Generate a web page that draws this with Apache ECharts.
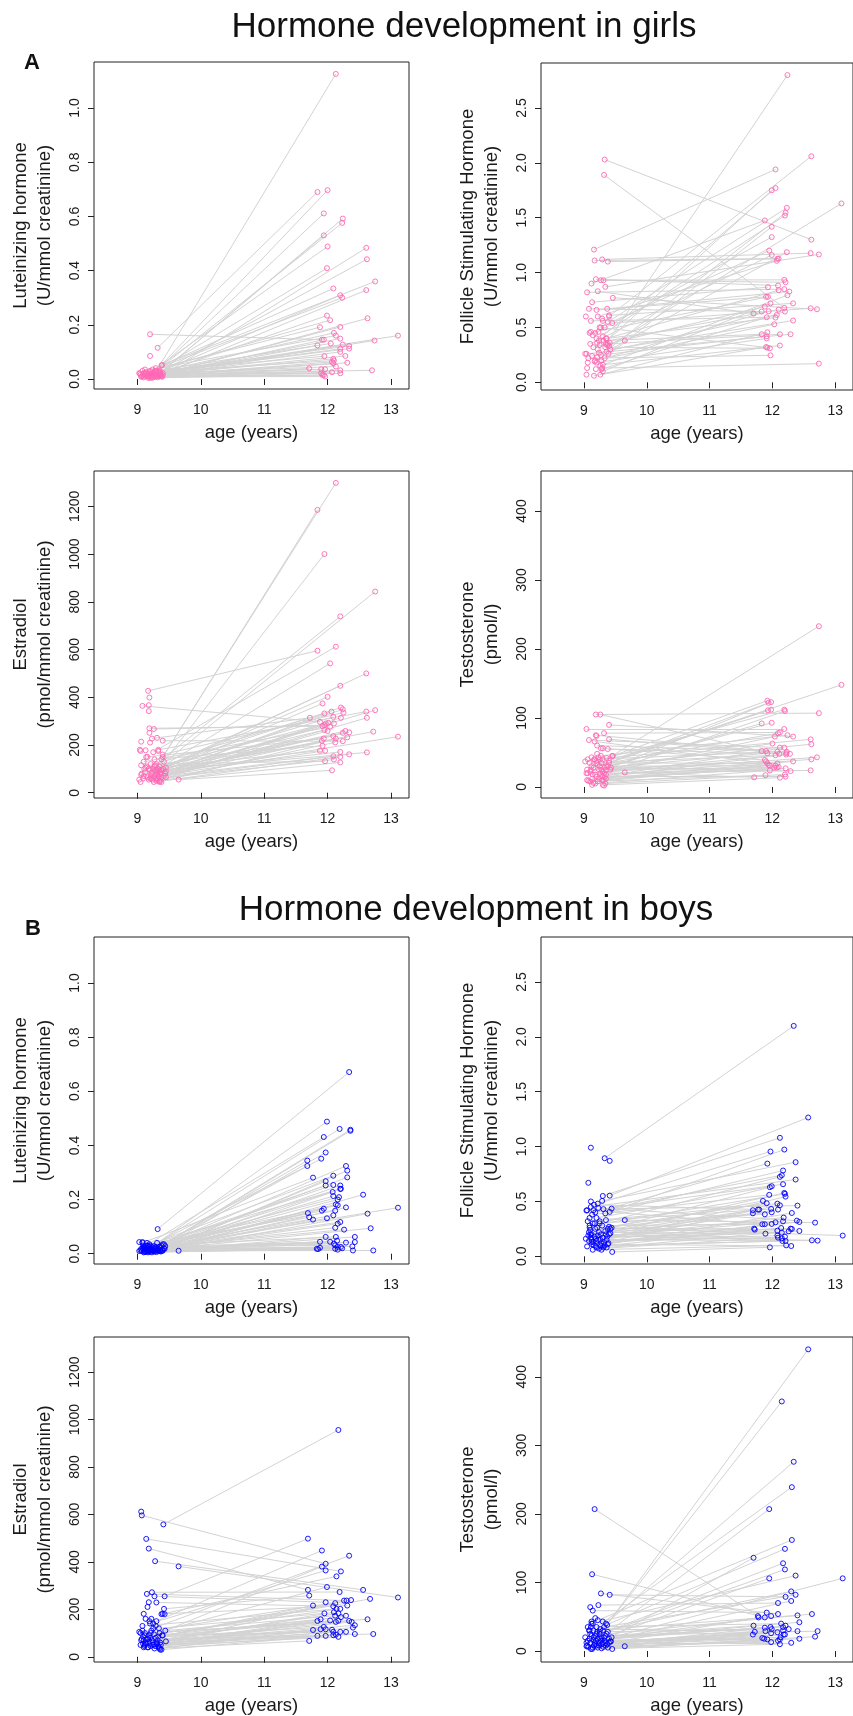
<!DOCTYPE html>
<html>
<head>
<meta charset="utf-8">
<script src="https://cdn.jsdelivr.net/npm/echarts@6/dist/echarts.min.js"></script>
<style>
  html, body { margin: 0; padding: 0; background: #fff; }
  #chart { width: 853px; height: 1716px; }
</style>
</head>
<body>
<div id="chart"></div>
<script>
// x axis (age), shared by all panels
const ageTicks = [9, 10, 11, 12, 13];

// y ticks per hormone
const lhTicks = [0, 0.2, 0.4, 0.6, 0.8, 1.0];
const fshTicks = [0, 0.5, 1.0, 1.5, 2.0, 2.5];
const e2Ticks = [0, 200, 400, 600, 800, 1000, 1200];
const tTicks = [0, 100, 200, 300, 400];

// pairs: [age1, value1, age2, value2]; singles: [age, value]
const girlsLH = [
  [9.30,0.030,12.13,1.126],[9.32,0.115,11.84,0.690],[9.25,0.020,12.00,0.697],[9.28,0.025,11.94,0.611],
  [9.35,0.020,12.24,0.592],[9.22,0.015,12.23,0.576],[9.30,0.010,11.94,0.530],[9.18,0.020,12.00,0.489],
  [9.40,0.015,12.61,0.484],[9.36,0.025,12.62,0.442],[9.15,0.010,11.99,0.409],[9.38,0.050,12.75,0.360],
  [9.20,0.030,12.09,0.334],[9.33,0.012,12.61,0.328],[9.27,0.018,12.20,0.309],[9.12,0.022,12.23,0.300],
  [9.19,0.008,11.99,0.234],[9.37,0.015,12.63,0.224],[9.10,0.020,12.04,0.217],[9.24,0.035,11.88,0.191],
  [9.29,0.012,12.20,0.192],[9.17,0.018,12.10,0.170],[9.08,0.030,12.13,0.160],[9.34,0.020,12.20,0.149],
  [9.20,0.165,11.91,0.145],[9.26,0.008,11.94,0.145],[9.40,0.022,13.11,0.160],[9.31,0.015,12.74,0.142],
  [9.14,0.025,12.05,0.131],[9.21,0.012,11.84,0.124],[9.38,0.010,12.24,0.127],[9.33,0.028,12.34,0.122],
  [9.05,0.015,12.34,0.112],[9.23,0.020,12.20,0.111],[9.16,0.010,12.20,0.100],[9.28,0.030,11.95,0.084],
  [9.11,0.012,12.28,0.085],[9.36,0.018,12.09,0.074],[9.19,0.025,12.10,0.068],[9.06,0.008,12.07,0.063],
  [9.27,0.014,12.09,0.058],[9.35,0.010,12.31,0.060],[9.13,0.020,12.13,0.046],[9.22,0.006,11.71,0.039],
  [9.30,0.022,11.90,0.036],[9.09,0.012,11.96,0.036],[9.39,0.008,12.20,0.032],[9.25,0.016,12.70,0.032],
  [9.18,0.010,12.07,0.025],[9.32,0.006,11.90,0.021],[9.04,0.020,12.20,0.021],[9.15,0.012,11.94,0.014],
  [9.28,0.008,11.96,0.009],[9.21,0.004,11.92,0.015]
];
const girlsLHSingle = [[9.03,0.022],[9.07,0.010],[9.20,0.085],[9.39,0.052],[9.24,0.005],[9.12,0.035],
  [9.29,0.040],[9.35,0.030],[9.17,0.004],[9.10,0.006]];

const girlsFSH = [
  [9.35,0.35,12.24,2.80],[9.40,0.60,12.62,2.06],[9.16,1.21,12.05,1.94],[9.30,0.42,12.05,1.77],
  [9.22,0.30,11.99,1.75],[9.38,0.55,12.23,1.59],[9.27,0.25,12.21,1.545],[9.20,0.40,12.20,1.52],
  [9.40,0.33,13.10,1.63],[9.12,0.90,11.88,1.475],[9.28,0.20,11.99,1.417],[9.18,0.45,11.99,1.323],
  [9.33,2.03,12.62,1.30],[9.25,0.50,11.95,1.20],[9.10,0.35,11.99,1.16],[9.36,0.28,12.23,1.186],
  [9.29,1.12,12.61,1.177],[9.34,0.87,12.74,1.165],[9.38,1.10,12.08,1.125],[9.17,1.11,12.10,1.128],
  [9.22,0.60,12.07,1.107],[9.31,0.93,12.19,0.934],[9.27,0.93,12.21,0.912],[9.19,0.94,12.09,0.882],
  [9.13,0.73,11.93,0.867],[9.24,0.38,12.10,0.84],[9.05,0.82,12.19,0.849],[9.37,0.67,12.27,0.827],
  [9.26,0.15,12.24,0.794],[9.20,0.66,11.90,0.779],[9.09,0.45,11.93,0.779],[9.30,0.10,11.97,0.72],
  [9.40,0.61,12.33,0.72],[9.15,0.32,11.88,0.69],[9.21,0.36,12.10,0.663],[9.32,1.89,12.19,0.678],
  [9.28,0.12,12.20,0.645],[9.45,0.54,12.61,0.675],[9.46,0.77,12.71,0.666],[9.22,0.83,11.70,0.627],
  [9.08,0.67,11.83,0.645],[9.33,0.22,11.94,0.648],[9.11,0.56,11.91,0.593],[9.24,0.27,12.07,0.614],
  [9.36,0.40,12.05,0.59],[9.42,0.30,12.33,0.563],[9.18,0.20,12.03,0.529],[9.26,0.07,11.92,0.456],
  [9.31,0.38,11.83,0.438],[9.13,0.24,11.91,0.42],[9.20,0.18,11.91,0.40],[9.38,0.35,12.12,0.438],
  [9.04,0.26,12.29,0.438],[9.30,0.16,12.12,0.335],[9.16,0.06,11.90,0.322],[9.27,0.50,11.92,0.316],
  [9.34,0.32,11.96,0.31],[9.07,0.22,11.97,0.246],[9.29,0.13,12.74,0.17]
];
const girlsFSHSingle = [[9.04,0.07],[9.05,0.13],[9.02,0.26],[9.06,0.18],[9.03,0.60],[9.11,0.46],
  [9.14,0.43],[9.17,0.19],[9.19,0.12],[9.23,0.46],[9.25,0.34],[9.29,0.58],[9.33,0.50],[9.35,0.40],
  [9.37,0.34],[9.39,0.26],[9.41,0.36],[9.65,0.38],[9.30,0.56],[9.21,0.23]];

const girlsE2 = [
  [9.40,150,12.13,1298],[9.38,140,11.84,1185],[9.42,130,11.95,1000],[9.35,110,12.75,843],
  [9.30,120,12.20,739],[9.17,427,11.84,595],[9.25,170,12.13,612],[9.33,100,12.04,542],
  [9.45,105,12.61,500],[9.28,90,12.20,448],[9.22,80,12.00,402],[9.36,85,11.92,374],
  [9.20,95,12.21,357],[9.31,75,12.24,350],[9.40,160,12.25,336],[9.27,70,12.06,340],
  [9.33,180,12.61,340],[9.45,90,12.75,346],[9.15,110,11.95,332],[9.38,65,12.62,314],
  [9.23,227,11.72,314],[9.12,85,12.09,318],[9.29,60,12.21,314],[9.08,364,11.88,297],
  [9.18,100,11.97,290],[9.26,267,11.95,283],[9.34,50,12.01,293],[9.21,70,12.10,290],
  [9.19,270,11.92,279],[9.10,130,12.04,276],[9.30,95,11.95,263],[9.24,55,12.00,259],
  [9.37,78,12.28,259],[9.41,100,12.34,253],[9.32,88,12.72,256],[9.16,65,12.24,251],
  [9.28,115,12.09,237],[9.06,75,12.31,232],[9.35,45,12.13,227],[9.44,80,13.11,235],
  [9.14,150,11.94,227],[9.20,60,11.91,217],[9.40,218,12.24,216],[9.30,50,12.12,211],
  [9.27,140,11.92,197],[9.11,100,11.88,176],[9.33,70,11.96,176],[9.23,85,12.20,171],
  [9.38,95,12.62,169],[9.18,55,12.34,161],[9.26,45,12.20,150],[9.09,60,12.09,153],
  [9.32,60,12.10,139],[9.21,120,11.96,132],[9.36,50,12.20,127],[9.65,55,12.07,94]
];
const girlsE2Single = [[9.19,399],[9.18,367],[9.18,342],[9.19,251],[9.06,214],[9.04,180],[9.05,175],
  [9.13,178],[9.33,175],[9.03,55],[9.05,45],[9.07,80],[9.10,70],[9.13,105],[9.16,150],[9.20,210],
  [9.25,100],[9.29,80],[9.31,230],[9.35,95],[9.38,45],[9.42,70],[9.45,65],[9.22,60],[9.27,110],[9.06,115]];

const girlsT = [
  [9.45,45,12.74,233],[9.40,35,13.10,148],[9.30,40,11.92,125],[9.25,30,11.94,122],
  [9.35,25,11.98,123],[9.20,38,12.19,112],[9.32,20,12.20,110],[9.15,28,11.93,111],
  [9.28,35,11.98,112],[9.19,105,12.74,107],[9.38,30,11.99,93],[9.10,22,11.83,92],
  [9.04,84,12.19,84],[9.32,78,12.12,79],[9.22,32,12.09,78],[9.18,18,12.04,73],
  [9.27,45,12.24,75],[9.40,90,12.33,73],[9.36,42,12.61,69],[9.12,30,12.62,62],
  [9.24,25,12.00,63],[9.29,15,12.19,57],[9.08,68,12.12,57],[9.26,105,11.83,52],
  [9.19,75,11.90,52],[9.33,28,11.92,49],[9.16,40,12.08,51],[9.21,60,12.23,51],
  [9.40,69,12.22,49],[9.13,12,12.28,48],[9.30,22,12.22,47],[9.20,35,12.05,46],
  [9.38,55,12.11,48],[9.06,20,12.71,43],[9.35,18,12.62,40],[9.27,56,11.88,39],
  [9.11,25,11.90,37],[9.24,12,12.33,37],[9.17,66,11.92,34],[9.31,10,11.94,32],
  [9.09,35,12.08,34],[9.22,8,11.96,31],[9.36,30,12.05,31],[9.14,18,12.10,29],
  [9.28,25,12.03,28],[9.05,10,12.07,28],[9.33,14,12.21,27],[9.18,5,11.96,24],
  [9.43,28,12.29,23],[9.26,20,12.61,24],[9.10,8,11.89,17],[9.34,5,12.20,18],
  [9.20,15,12.21,15],[9.65,21,11.71,14],[9.30,3,12.12,13.5]
];
const girlsTSingle = [[9.02,37],[9.04,20],[9.05,25],[9.07,9],[9.12,43],[9.20,74],[9.17,40],[9.23,43],
  [9.30,56],[9.40,38],[9.46,45],[9.42,25],[9.32,2],[9.29,10],[9.15,6],[9.25,40],[9.35,12],[9.21,48],
  [9.06,40],[9.13,3]];

const boysLH = [
  [9.32,0.091,12.34,0.671],[9.20,0.020,11.99,0.488],[9.15,0.015,12.19,0.461],[9.38,0.030,12.36,0.458],
  [9.25,0.010,12.36,0.454],[9.10,0.025,11.94,0.431],[9.30,0.012,11.97,0.374],[9.18,0.008,11.90,0.351],
  [9.40,0.035,11.68,0.344],[9.12,0.018,11.68,0.324],[9.28,0.022,12.29,0.324],[9.35,0.010,12.31,0.307],
  [9.08,0.040,11.77,0.281],[9.22,0.015,12.31,0.282],[9.16,0.030,12.09,0.288],[9.42,0.020,11.97,0.268],
  [9.05,0.012,11.97,0.252],[9.26,0.028,12.09,0.254],[9.33,0.018,12.20,0.252],[9.13,0.010,12.20,0.239],
  [9.19,0.035,12.21,0.240],[9.37,0.008,12.08,0.228],[9.24,0.015,12.09,0.213],[9.11,0.022,12.18,0.209],
  [9.40,0.012,12.56,0.218],[9.29,0.025,12.16,0.200],[9.17,0.012,12.13,0.182],[9.09,0.030,12.16,0.179],
  [9.34,0.015,12.29,0.171],[9.44,0.028,13.11,0.170],[9.21,0.008,11.94,0.166],[9.14,0.020,11.91,0.159],
  [9.31,0.040,12.12,0.159],[9.06,0.018,11.69,0.150],[9.39,0.010,12.63,0.148],[9.23,0.025,12.09,0.142],
  [9.16,0.012,11.71,0.135],[9.27,0.016,11.77,0.126],[9.12,0.006,11.99,0.131],[9.36,0.022,12.20,0.117],
  [9.20,0.012,12.16,0.111],[9.10,0.015,12.12,0.096],[9.43,0.018,12.68,0.094],[9.18,0.020,12.26,0.089],
  [9.26,0.010,11.97,0.062],[9.14,0.030,12.13,0.062],[9.32,0.012,12.43,0.062],[9.08,0.020,12.43,0.043],
  [9.22,0.014,11.88,0.044],[9.35,0.026,12.04,0.044],[9.15,0.008,12.15,0.048],[9.28,0.018,12.29,0.041],
  [9.11,0.010,12.10,0.037],[9.19,0.025,12.12,0.031],[9.30,0.006,12.16,0.025],[9.24,0.012,12.21,0.025],
  [9.40,0.015,12.39,0.027],[9.13,0.020,11.88,0.022],[9.07,0.010,11.85,0.017],[9.17,0.005,11.83,0.018],
  [9.33,0.010,12.12,0.018],[9.21,0.018,12.23,0.020],[9.65,0.011,12.72,0.012],[9.03,0.010,12.40,0.012],
  [9.27,0.008,12.16,0.015]
];
const boysLHSingle = [[9.03,0.043],[9.08,0.043],[9.15,0.040],[9.20,0.030],[9.10,0.005],[9.18,0.012],
  [9.23,0.005],[9.36,0.012],[9.42,0.035],[9.12,0.028]];

const boysFSH = [
  [9.33,0.894,12.34,2.10],[9.41,0.553,12.57,1.265],[9.30,0.55,12.12,1.08],[9.22,0.48,11.97,0.955],
  [9.41,0.405,12.19,0.973],[9.29,0.505,12.37,0.858],[9.18,0.40,11.92,0.845],[9.34,0.392,12.17,0.782],
  [9.44,0.435,12.15,0.739],[9.25,0.30,12.12,0.724],[9.11,0.45,12.37,0.70],[9.20,0.35,11.99,0.639],
  [9.38,0.25,11.96,0.63],[9.15,0.42,12.17,0.657],[9.27,0.20,12.19,0.578],[9.09,0.28,12.20,0.569],
  [9.36,0.15,12.21,0.544],[9.13,0.38,11.95,0.56],[9.24,0.22,11.85,0.505],[9.40,0.27,11.91,0.484],
  [9.06,0.32,12.08,0.48],[9.19,0.16,12.12,0.465],[9.31,0.43,12.40,0.462],[9.12,0.20,11.69,0.42],
  [9.28,0.12,11.77,0.426],[9.16,0.47,11.79,0.426],[9.35,0.33,11.98,0.432],[9.21,0.26,11.99,0.401],
  [9.08,0.14,12.09,0.426],[9.42,0.21,11.69,0.392],[9.14,0.30,11.88,0.383],[9.26,0.10,12.31,0.395],
  [9.37,0.18,12.18,0.353],[9.10,0.24,12.17,0.319],[9.23,0.44,12.39,0.325],[9.32,0.13,12.43,0.313],
  [9.65,0.33,12.68,0.307],[9.17,0.18,12.05,0.31],[9.29,0.28,11.84,0.292],[9.05,0.42,11.88,0.292],
  [9.39,0.12,11.99,0.295],[9.13,0.11,12.14,0.258],[9.22,0.19,12.29,0.252],[9.34,0.23,12.31,0.249],
  [9.18,0.25,11.71,0.252],[9.27,0.09,11.72,0.243],[9.11,0.17,12.08,0.234],[9.36,0.08,12.26,0.228],
  [9.20,0.14,12.43,0.231],[9.08,0.22,11.89,0.207],[9.30,0.17,12.15,0.216],[9.15,0.13,12.08,0.189],
  [9.40,0.20,12.09,0.17],[9.24,0.07,12.20,0.179],[9.12,0.15,12.15,0.164],[9.44,0.26,13.12,0.189],
  [9.19,0.09,12.16,0.14],[9.33,0.10,12.21,0.14],[9.07,0.19,12.63,0.146],[9.26,0.15,12.72,0.143],
  [9.14,0.06,12.22,0.10],[9.38,0.11,12.30,0.094],[9.45,0.04,11.96,0.082]
];
const boysFSHSingle = [[9.11,0.99],[9.41,0.87],[9.07,0.67],[9.04,0.417],[9.11,0.50],[9.03,0.16],
  [9.05,0.09],[9.09,0.26],[9.10,0.20],[9.16,0.10],[9.20,0.08],[9.23,0.15],[9.28,0.06],[9.31,0.08],
  [9.35,0.20],[9.42,0.25],[9.17,0.30],[9.12,0.13],[9.25,0.32],[9.09,0.35]];

const boysE2 = [
  [9.41,558,12.17,956],[9.43,255,11.69,498],[9.30,150,11.91,448],[9.25,120,12.34,426],
  [9.07,596,11.97,392],[9.35,100,11.91,380],[9.20,140,11.97,364],[9.14,497,12.21,360],
  [9.38,180,12.14,339],[9.18,456,11.69,282],[9.28,403,12.56,282],[9.12,90,11.99,294],
  [9.42,202,11.71,258],[9.23,272,12.19,273],[9.65,381,13.11,250],[9.33,85,12.67,244],
  [9.10,70,11.77,216],[9.27,255,11.97,230],[9.15,265,12.26,237],[9.36,60,12.30,237],
  [9.22,110,12.37,239],[9.40,181,12.31,216],[9.17,75,12.12,226],[9.30,229,12.09,213],
  [9.08,130,12.14,202],[9.26,95,12.20,202],[9.13,55,12.10,188],[9.34,120,11.95,183],
  [9.19,65,12.17,183],[9.44,110,12.12,173],[9.11,45,12.29,173],[9.29,80,12.21,167],
  [9.21,100,12.63,158],[9.37,50,12.04,153],[9.09,85,11.89,158],[9.16,40,11.84,151],
  [9.32,70,12.34,151],[9.24,60,12.38,147],[9.05,100,12.13,147],[9.39,90,12.17,152],
  [9.14,60,12.43,133],[9.28,45,12.40,123],[9.20,80,11.94,126],[9.35,35,11.89,116],
  [9.12,50,11.97,116],[9.45,65,11.77,113],[9.23,70,12.07,114],[9.10,40,12.09,105],
  [9.31,55,12.20,105],[9.18,90,12.29,105],[9.26,50,12.43,96],[9.06,70,12.72,96],
  [9.34,40,12.09,91],[9.15,75,11.84,88],[9.38,30,11.97,88],[9.21,45,12.17,84],
  [9.09,55,12.13,93],[9.27,35,11.71,67]
];
const boysE2Single = [[9.06,612],[9.03,105],[9.05,50],[9.08,110],[9.10,181],[9.13,160],[9.16,210],
  [9.19,150],[9.22,160],[9.25,140],[9.30,60],[9.33,45],[9.36,30],[9.40,90],[9.43,180],[9.12,100],
  [9.18,230],[9.24,50],[9.07,75],[9.29,130],[9.17,40]];

const boysT = [
  [9.30,30,12.57,440],[9.25,25,12.15,364],[9.35,40,12.34,276],[9.20,35,12.31,239],
  [9.28,20,11.95,207],[9.22,45,12.31,162],[9.15,30,12.20,149],[9.33,15,11.70,136],
  [9.18,22,12.17,128],[9.38,28,12.20,119],[9.12,40,12.37,110],[9.26,18,11.95,106],
  [9.44,20,13.12,106],[9.10,25,12.30,87],[9.32,35,12.37,82],[9.41,82,12.21,79],
  [9.17,12,12.30,73],[9.23,67,12.09,70],[9.14,59,11.91,56],[9.27,84,12.09,54],
  [9.36,25,12.63,54],[9.08,30,12.40,52],[9.17,207,11.77,51],[9.29,10,11.78,49],
  [9.13,112,11.88,49],[9.19,15,11.98,51],[9.40,18,12.43,42],[9.11,35,12.14,40],
  [9.24,8,12.21,37],[9.34,22,11.70,37],[9.06,15,11.97,35],[9.21,28,11.99,32],
  [9.30,12,12.26,32],[9.16,20,12.17,35],[9.37,10,12.17,30],[9.09,18,11.88,34],
  [9.26,32,11.89,29],[9.42,14,12.40,29],[9.12,22,12.72,29],[9.31,6,11.72,28],
  [9.18,10,12.08,27.5],[9.22,5,11.98,26],[9.05,8,11.69,24],[9.34,12,12.18,24],
  [9.14,5,12.20,24],[9.27,15,12.13,20],[9.10,12,11.84,19],[9.20,8,11.87,18],
  [9.38,5,11.92,17],[9.15,16,12.12,17],[9.65,7,12.09,15],[9.28,4,12.43,18],
  [9.45,3,12.68,21],[9.07,6,11.98,13],[9.24,12,12.30,12],[9.13,3,12.12,10]
];
const boysTSingle = [[9.02,20],[9.04,12],[9.04,7],[9.10,64],[9.18,48],[9.12,43],[9.30,43],[9.37,38],
  [9.20,25],[9.09,30],[9.16,8],[9.25,28],[9.32,20],[9.40,12],[9.43,14],[9.06,35],[9.14,40],[9.22,18],
  [9.35,8],[9.11,3]];

const PINK = '#ff69b4';
const BLUE = '#0000ff';
const LEFT_X = 94, RIGHT_X = 541, BOX_W = 315, BOX_H = 327;

const panels = [
  { left: LEFT_X,  top: 62,   yMin: -0.037, yMax: 1.17, ticks: lhTicks,  dec: 1, name: 'Luteinizing hormone\n(U/mmol creatinine)', pairs: girlsLH,  singles: girlsLHSingle,  color: PINK },
  { left: RIGHT_X, top: 63,   yMin: -0.07,  yMax: 2.91, ticks: fshTicks, dec: 1, name: 'Follicle Stimulating Hormone\n(U/mmol creatinine)', pairs: girlsFSH, singles: girlsFSHSingle, color: PINK },
  { left: LEFT_X,  top: 471,  yMin: -22,    yMax: 1348, ticks: e2Ticks,  dec: 0, name: 'Estradiol\n(pmol/mmol creatinine)', pairs: girlsE2,  singles: girlsE2Single,  color: PINK },
  { left: RIGHT_X, top: 471,  yMin: -16,    yMax: 458,  ticks: tTicks,   dec: 0, name: 'Testosterone\n(pmol/l)', pairs: girlsT,   singles: girlsTSingle,   color: PINK },
  { left: LEFT_X,  top: 937,  yMin: -0.038, yMax: 1.17, ticks: lhTicks,  dec: 1, name: 'Luteinizing hormone\n(U/mmol creatinine)', pairs: boysLH,   singles: boysLHSingle,   color: BLUE },
  { left: RIGHT_X, top: 937,  yMin: -0.07,  yMax: 2.91, ticks: fshTicks, dec: 1, name: 'Follicle Stimulating Hormone\n(U/mmol creatinine)', pairs: boysFSH,  singles: boysFSHSingle,  color: BLUE },
  { left: LEFT_X,  top: 1337, yMin: -22,    yMax: 1348, ticks: e2Ticks,  dec: 0, name: 'Estradiol\n(pmol/mmol creatinine)', pairs: boysE2,   singles: boysE2Single,   color: BLUE },
  { left: RIGHT_X, top: 1337, yMin: -16,    yMax: 458,  ticks: tTicks,   dec: 0, name: 'Testosterone\n(pmol/l)', pairs: boysT,    singles: boysTSingle,    color: BLUE }
];

const FONT = '"Liberation Sans", Arial, Helvetica, sans-serif';
const INK = '#1a1a1a';

const grid = [], xAxis = [], yAxis = [], series = [];
panels.forEach((p, i) => {
  grid.push({
    left: p.left, top: p.top, width: BOX_W, height: BOX_H,
    show: true, borderColor: '#222', borderWidth: 1, backgroundColor: 'transparent'
  });
  xAxis.push({
    gridIndex: i, type: 'value', min: 8.316, max: 13.284,
    axisLine: { show: false },
    splitLine: { show: false },
    axisTick: { show: true, inside: false, length: 6, customValues: ageTicks, lineStyle: { color: '#222' } },
    axisLabel: { customValues: ageTicks, fontSize: 14, margin: 14, color: INK, fontFamily: FONT },
    name: 'age (years)', nameLocation: 'middle', nameGap: 34,
    nameTextStyle: { fontSize: 18.5, color: INK, fontFamily: FONT }
  });
  yAxis.push({
    gridIndex: i, type: 'value', min: p.yMin, max: p.yMax,
    axisLine: { show: false },
    splitLine: { show: false },
    axisTick: { show: true, inside: false, length: 6, customValues: p.ticks, lineStyle: { color: '#222' } },
    axisLabel: {
      customValues: p.ticks, rotate: 90, fontSize: 14, margin: 12, color: INK, fontFamily: FONT,
      formatter: (v) => v.toFixed(p.dec)
    },
    name: p.name, nameLocation: 'middle', nameGap: 37, nameRotate: 90,
    nameTextStyle: { fontSize: 18.5, lineHeight: 24, color: INK, fontFamily: FONT, align: 'center' }
  });
  series.push({
    type: 'lines', coordinateSystem: 'cartesian2d', xAxisIndex: i, yAxisIndex: i,
    silent: true, z: 1,
    lineStyle: { color: '#d3d3d3', width: 1, opacity: 1 },
    data: p.pairs.map(d => ({ coords: [[d[0], d[1]], [d[2], d[3]]] }))
  });
  const pts = [];
  p.pairs.forEach(d => { pts.push([d[0], d[1]]); pts.push([d[2], d[3]]); });
  p.singles.forEach(d => pts.push(d));
  series.push({
    type: 'scatter', xAxisIndex: i, yAxisIndex: i, silent: true, z: 2,
    symbol: 'circle', symbolSize: 5,
    itemStyle: { color: 'rgba(0,0,0,0)', borderColor: p.color, borderWidth: 0.9, opacity: 1 },
    data: pts
  });
});

const chart = echarts.init(document.getElementById('chart'), null, { renderer: 'canvas' });
chart.setOption({
  animation: false,
  backgroundColor: '#fff',
  grid, xAxis, yAxis, series,
  graphic: [
    { type: 'text', style: { text: 'Hormone development in girls', x: 464, y: 27, align: 'center', verticalAlign: 'middle', font: '35px ' + FONT, fill: '#111' } },
    { type: 'text', style: { text: 'Hormone development in boys', x: 476, y: 910, align: 'center', verticalAlign: 'middle', font: '35px ' + FONT, fill: '#111' } },
    { type: 'text', style: { text: 'A', x: 32, y: 63, align: 'center', verticalAlign: 'middle', font: 'bold 22px ' + FONT, fill: '#111' } },
    { type: 'text', style: { text: 'B', x: 33, y: 929, align: 'center', verticalAlign: 'middle', font: 'bold 22px ' + FONT, fill: '#111' } }
  ]
});
</script>
</body>
</html>
